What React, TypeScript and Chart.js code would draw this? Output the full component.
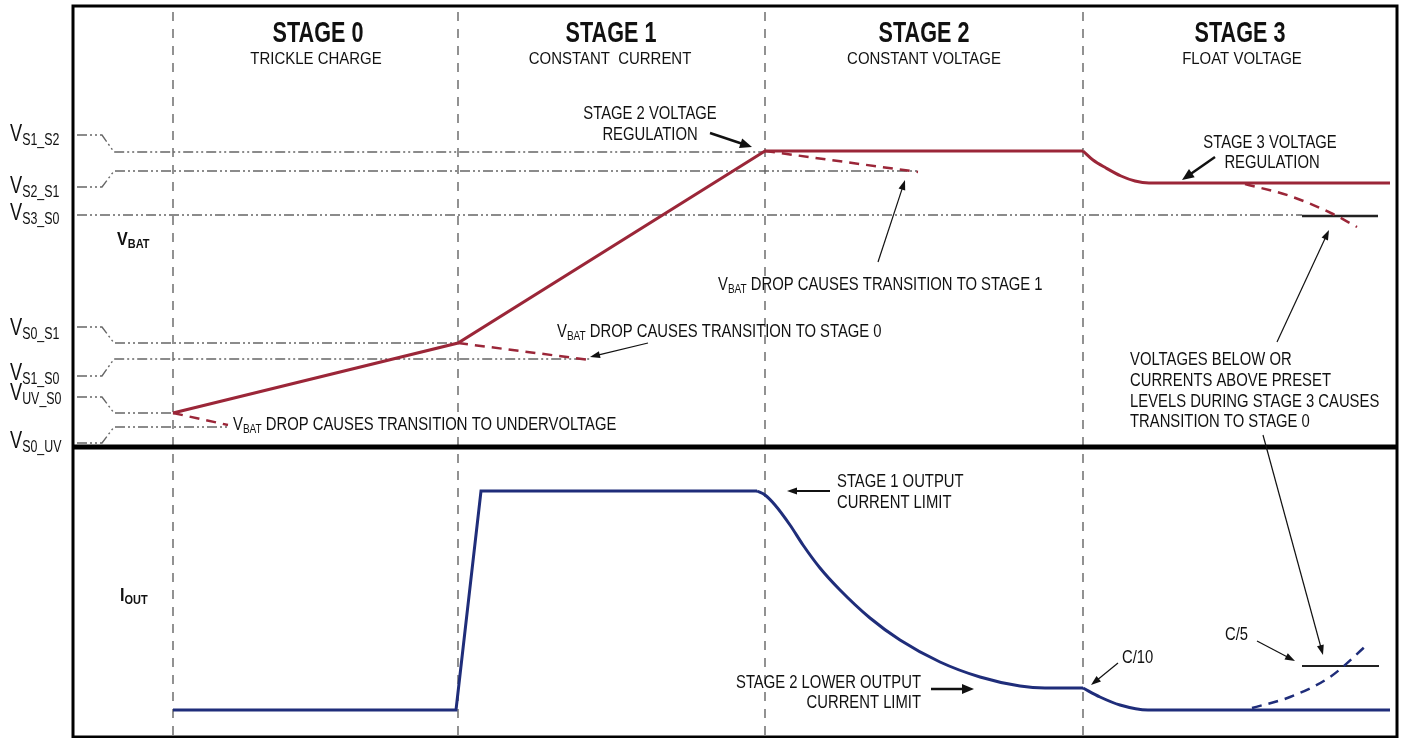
import React, { useEffect, useRef } from "react";
import { Chart, registerables } from "chart.js";

Chart.register(...registerables);

// ---- Diagram data (time units along x, level units along y) ----
const stageBounds = [100, 385, 692, 1010];

// Threshold levels (left stub level, main level, line end time)
const levelNames = ["S1_S2", "S2_S1", "S3_S0", "S0_S1", "S1_S0", "UV_S0", "S0_UV"];
const levelStubV = [602, 550, 522, 410, 361, 340, 294];
const levelMainV = [585, 566, 522, 394, 378, 324, 310];
const levelEndT = [692, 845, 1229, 385, 517, 100, 155];
const levelLabelV = [596, 544, 517, 402, 357, 337, 289];

// VBAT (red)
const vbatT = [100, 385, 692, 1010];
const vbatV = [324, 394, 586, 586];
const vbatFloatT = [1010, 1020, 1033, 1048, 1062, 1076, 1317];
const vbatFloatV = [586, 577, 569, 561, 556, 554, 554];
const dropUvT = [100, 155];
const dropUvV = [324, 312];
const dropS0T = [385, 517];
const dropS0V = [394, 377];
const dropS1T = [692, 845];
const dropS1V = [586, 565];
const dropS3T = [1172, 1217, 1260, 1284];
const dropS3V = [553, 541, 523, 510];
const s3MarkT = [1229, 1305];
const s3MarkV = [521, 521];

// IOUT (blue)
const ioutT = [100, 383, 408, 684];
const ioutV = [27, 27, 246, 246];
const ioutTaperT = [684, 692, 702, 717, 730, 747, 767, 797, 827, 867, 907, 947, 972, 1010];
const ioutTaperV = [246, 242, 232, 212, 192, 169, 147, 119, 97, 75, 60, 51, 49, 49];
const ioutFloatT = [1010, 1027, 1047, 1075, 1317];
const ioutFloatV = [49, 40, 32, 27, 27];
const ioutRiseT = [1179, 1217, 1257, 1295];
const ioutRiseV = [29, 40, 60, 93];
const c5MarkT = [1229, 1306];
const c5MarkV = [71, 71];

const dividerV = 290;
const X_MAX = 1324;
const Y_MAX = 731;

const RED = "#9b2638";
const BLUE = "#1f2d7a";
const GRAY = "#666666";
const FONT = '"Liberation Sans", Arial, Helvetica, sans-serif';

const zip = (t: number[], v: number[]) => t.map((x, i) => ({ x, y: v[i] }));

type TextItem = {
  s: string;
  x: number;
  y: number;
  size: number;
  sx: number;
  bold?: boolean;
  align: "left" | "center" | "right";
};

const texts: TextItem[] = [
  { s: "STAGE 0", x: 245, y: 695, size: 30, sx: 0.72, bold: true, align: "center" },
  { s: "TRICKLE CHARGE", x: 243, y: 673, size: 17, sx: 0.88, align: "center" },
  { s: "STAGE 1", x: 538, y: 695, size: 30, sx: 0.72, bold: true, align: "center" },
  { s: "CONSTANT  CURRENT", x: 537, y: 673, size: 17, sx: 0.88, align: "center" },
  { s: "STAGE 2", x: 851, y: 695, size: 30, sx: 0.72, bold: true, align: "center" },
  { s: "CONSTANT VOLTAGE", x: 851, y: 673, size: 17, sx: 0.88, align: "center" },
  { s: "STAGE 3", x: 1167, y: 695, size: 30, sx: 0.72, bold: true, align: "center" },
  { s: "FLOAT VOLTAGE", x: 1169, y: 673, size: 17, sx: 0.88, align: "center" },

  { s: "STAGE 2 VOLTAGE", x: 577, y: 618, size: 19, sx: 0.78, align: "center" },
  { s: "REGULATION", x: 577, y: 597, size: 19, sx: 0.78, align: "center" },
  { s: "V_{BAT} DROP CAUSES TRANSITION TO STAGE 1", x: 645, y: 447, size: 19, sx: 0.78, align: "left" },
  { s: "V_{BAT} DROP CAUSES TRANSITION TO STAGE 0", x: 484, y: 400, size: 19, sx: 0.78, align: "left" },
  { s: "V_{BAT} DROP CAUSES TRANSITION TO UNDERVOLTAGE", x: 160, y: 307, size: 19, sx: 0.78, align: "left" },
  { s: "STAGE 3 VOLTAGE", x: 1197, y: 589, size: 19, sx: 0.78, align: "center" },
  { s: "REGULATION", x: 1199, y: 569, size: 19, sx: 0.78, align: "center" },
  { s: "VOLTAGES BELOW OR", x: 1057, y: 372, size: 19, sx: 0.78, align: "left" },
  { s: "CURRENTS ABOVE PRESET", x: 1057, y: 351, size: 19, sx: 0.78, align: "left" },
  { s: "LEVELS DURING STAGE 3 CAUSES", x: 1057, y: 330, size: 19, sx: 0.78, align: "left" },
  { s: "TRANSITION TO STAGE 0", x: 1057, y: 310, size: 19, sx: 0.78, align: "left" },
  { s: "STAGE 1 OUTPUT", x: 764, y: 250, size: 19, sx: 0.78, align: "left" },
  { s: "CURRENT LIMIT", x: 764, y: 229, size: 19, sx: 0.78, align: "left" },
  { s: "STAGE 2 LOWER OUTPUT", x: 848, y: 49, size: 19, sx: 0.78, align: "right" },
  { s: "CURRENT LIMIT", x: 848, y: 29, size: 19, sx: 0.78, align: "right" },
  { s: "C/10", x: 1049, y: 74, size: 19, sx: 0.78, align: "left" },
  { s: "C/5", x: 1152, y: 97, size: 19, sx: 0.78, align: "left" },

  { s: "V_{BAT}", x: 44, y: 492, size: 19, sx: 0.85, bold: true, align: "left" },
  { s: "I_{OUT}", x: 47, y: 136, size: 19, sx: 0.85, bold: true, align: "left" },
  ...levelNames.map((n, i) => ({
    s: "V_{" + n + "}",
    x: -63,
    y: levelLabelV[i],
    size: 24,
    sx: 0.76,
    align: "left" as const,
  })),
];

// Arrows: tail -> tip
const arrowFromT = [637, 805, 575, 1142, 1204, 1190, 757, 858, 1045, 1184];
const arrowFromV = [604, 475, 394, 580, 395, 302, 246, 48, 74, 96];
const arrowToT = [679, 832, 517, 1109, 1256, 1250, 714, 901, 1018, 1222];
const arrowToV = [590, 557, 380, 557, 507, 82, 246, 48, 52, 76];
const arrowWidth = [2.5, 1.2, 1.2, 2.5, 1.2, 1.2, 2, 2.5, 1.2, 1.2];

function parseRich(s: string) {
  const parts: { t: string; sub: boolean }[] = [];
  const re = /_\{([^}]*)\}/g;
  let last = 0;
  let m: RegExpExecArray | null;
  while ((m = re.exec(s))) {
    if (m.index > last) parts.push({ t: s.slice(last, m.index), sub: false });
    parts.push({ t: m[1], sub: true });
    last = m.index + m[0].length;
  }
  if (last < s.length) parts.push({ t: s.slice(last), sub: false });
  return parts;
}

const overlayPlugin = {
  id: "overlay",
  afterDatasetsDraw(chart: any) {
    const ctx: CanvasRenderingContext2D = chart.ctx;
    const xs = chart.scales.x;
    const ys = chart.scales.y;
    const ca = chart.chartArea;
    ctx.save();

    // frame
    ctx.strokeStyle = "#000";
    ctx.lineWidth = 3;
    ctx.strokeRect(ca.left, ca.top, ca.right - ca.left, ca.bottom - ca.top);

    // arrows
    ctx.fillStyle = "#111";
    ctx.strokeStyle = "#111";
    for (let i = 0; i < arrowFromT.length; i++) {
      const x1 = xs.getPixelForValue(arrowFromT[i]);
      const y1 = ys.getPixelForValue(arrowFromV[i]);
      const x2 = xs.getPixelForValue(arrowToT[i]);
      const y2 = ys.getPixelForValue(arrowToV[i]);
      const ang = Math.atan2(y2 - y1, x2 - x1);
      const w = arrowWidth[i];
      const hl = w > 2 ? 12 : 10;
      const hw = w > 2 ? 5 : 3.5;
      ctx.lineWidth = w;
      ctx.beginPath();
      ctx.moveTo(x1, y1);
      ctx.lineTo(x2 - Math.cos(ang) * hl * 0.8, y2 - Math.sin(ang) * hl * 0.8);
      ctx.stroke();
      ctx.beginPath();
      ctx.moveTo(x2, y2);
      ctx.lineTo(x2 - Math.cos(ang) * hl - Math.sin(ang) * hw, y2 - Math.sin(ang) * hl + Math.cos(ang) * hw);
      ctx.lineTo(x2 - Math.cos(ang) * hl + Math.sin(ang) * hw, y2 - Math.sin(ang) * hl - Math.cos(ang) * hw);
      ctx.closePath();
      ctx.fill();
    }

    // texts
    ctx.textBaseline = "alphabetic";
    ctx.textAlign = "left";
    ctx.fillStyle = "#111";
    for (const it of texts) {
      const parts = parseRich(it.s);
      const px = xs.getPixelForValue(it.x);
      const py = ys.getPixelForValue(it.y);
      const fontFor = (sub: boolean) =>
        `${it.bold ? "bold " : ""}${sub ? it.size * 0.68 : it.size}px ${FONT}`;
      const widths = parts.map((p) => {
        ctx.font = fontFor(p.sub);
        return ctx.measureText(p.t).width * it.sx;
      });
      const total = widths.reduce((a, b) => a + b, 0);
      let cur = it.align === "center" ? px - total / 2 : it.align === "right" ? px - total : px;
      parts.forEach((p, i) => {
        ctx.font = fontFor(p.sub);
        ctx.save();
        ctx.translate(cur, py + (p.sub ? it.size * 0.17 : 0));
        ctx.scale(it.sx, 1);
        ctx.fillText(p.t, 0, 0);
        ctx.restore();
        cur += widths[i];
      });
    }
    ctx.restore();
  },
};

export default function App() {
  const ref = useRef<HTMLCanvasElement | null>(null);

  useEffect(() => {
    if (!ref.current) return;

    const line = (data: any[], color: string, width: number, extra: any = {}) => ({
      data,
      borderColor: color,
      borderWidth: width,
      pointRadius: 0,
      fill: false,
      tension: 0,
      order: 1,
      ...extra,
    });

    const levelDash = [10, 3, 2, 3, 2, 3];
    const levelSets = levelNames.map((_, i) => {
      const pts =
        levelStubV[i] === levelMainV[i]
          ? [
              { x: 4, y: levelMainV[i] },
              { x: levelEndT[i], y: levelMainV[i] },
            ]
          : [
              { x: 4, y: levelStubV[i] },
              { x: 29, y: levelStubV[i] },
              { x: 41, y: levelMainV[i] },
              { x: levelEndT[i], y: levelMainV[i] },
            ];
      return line(pts, GRAY, 1.4, { borderDash: levelDash, order: 10 });
    });

    const stageSets = stageBounds.map((t) =>
      line(
        [
          { x: t, y: 2 },
          { x: t, y: Y_MAX - 2 },
        ],
        "#777777",
        1.6,
        { borderDash: [9, 8], order: 11 }
      )
    );

    const mono = { cubicInterpolationMode: "monotone", tension: 0.4 };

    const datasets: any[] = [
      line(zip(vbatT, vbatV), RED, 3),
      line(zip(vbatFloatT, vbatFloatV), RED, 3, mono),
      line(zip(dropUvT, dropUvV), RED, 2.5, { borderDash: [10, 7] }),
      line(zip(dropS0T, dropS0V), RED, 2.5, { borderDash: [10, 7] }),
      line(zip(dropS1T, dropS1V), RED, 2.5, { borderDash: [10, 7] }),
      line(zip(dropS3T, dropS3V), RED, 2.5, { borderDash: [10, 7], ...mono }),
      line(zip(s3MarkT, s3MarkV), "#222", 2.5, { order: 2 }),
      line(zip(ioutT, ioutV), BLUE, 3),
      line(zip(ioutTaperT, ioutTaperV), BLUE, 3, mono),
      line(zip(ioutFloatT, ioutFloatV), BLUE, 3, mono),
      line(zip(ioutRiseT, ioutRiseV), BLUE, 2.5, { borderDash: [10, 7], ...mono }),
      line(zip(c5MarkT, c5MarkV), "#222", 2, { order: 2 }),
      line(
        [
          { x: 0, y: dividerV },
          { x: X_MAX, y: dividerV },
        ],
        "#000",
        5,
        { order: 3 }
      ),
      ...levelSets,
      ...stageSets,
    ];

    const chart = new Chart(ref.current, {
      type: "line",
      data: { datasets },
      options: {
        animation: false,
        responsive: false,
        devicePixelRatio: 1,
        layout: { padding: { left: 73, right: 8, top: 6, bottom: 1 } },
        plugins: { legend: { display: false }, tooltip: { enabled: false } },
        scales: {
          x: { type: "linear", min: 0, max: X_MAX, display: false },
          y: { type: "linear", min: 0, max: Y_MAX, display: false },
        },
      },
      plugins: [overlayPlugin],
    } as any);

    return () => chart.destroy();
  }, []);

  return (
    <div style={{ position: "absolute", left: 0, top: 0, width: 1405, height: 738, background: "#fff" }}>
      <canvas ref={ref} width={1405} height={738} style={{ display: "block" }} />
    </div>
  );
}
